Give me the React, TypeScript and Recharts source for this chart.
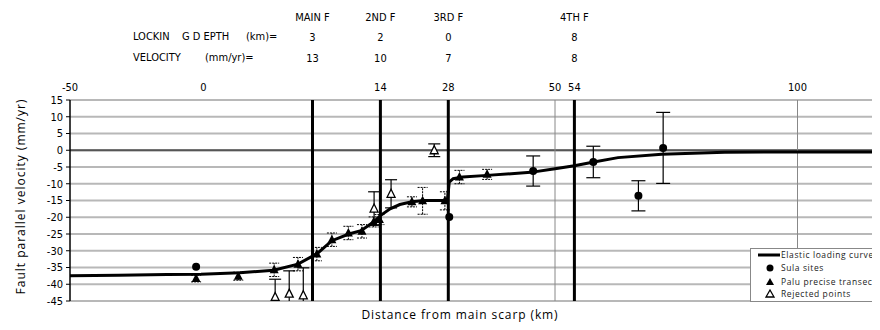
import React from "react";
import {
  ComposedChart,
  Line,
  Scatter,
  ErrorBar,
  XAxis,
  YAxis,
  CartesianGrid,
  ReferenceLine,
} from "recharts";

// Fault header table
const faultNames = ["MAIN  F", "2ND F", "3RD F", "4TH F"];
const faultPositions = [0, 14, 28, 54];
const lockingDepths = [3, 2, 0, 8];
const faultVelocities = [13, 10, 7, 8];

// thin vertical marks
const thinMarks = [50, 100];

// top tick labels (the "0" sits left of the main fault in the original)
const xTickPositions = [-50, -22.5, 14, 28, 50, 54, 100];
const xTickLabels = ["-50", "0", "14", "28", "50", "54", "100"];
const yTicks = [15, 10, 5, 0, -5, -10, -15, -20, -25, -30, -35, -40, -45];

// Elastic loading curve
const curveKm = [-50, -40, -30, -23, -15, -8, -3, 1, 4, 7.5, 10, 12.5, 14, 16, 18, 20.5, 23, 27.8, 28.2, 29, 31, 36, 45, 50, 54, 58, 63, 72, 85, 100, 130];
const curveVel = [-37.5, -37.3, -37.1, -37, -36.6, -35.8, -34, -30.8, -27, -25, -24, -21.5, -19.5, -17.5, -16.2, -15.4, -15, -15, -9.5, -8.5, -8, -7.5, -6.6, -5.5, -4.6, -3.5, -2.2, -1.2, -0.6, -0.5, -0.5];

// Palu precise transect
const paluKm = [-24, -15.3, -7.9, -3, 0.9, 4, 7.4, 10.2, 12.6, 13.8, 20.5, 22.7, 27.3, 30.3, 36];
const paluVel = [-38.3, -37.6, -35.7, -34, -31, -26.7, -24.7, -24.2, -21.4, -20.7, -15.4, -15.1, -15.1, -8, -7.2];
const paluErr = [1, 1.2, 2, 2, 2, 2, 2, 2, 1.5, 1.5, 1.5, 4, 2.7, 2, 1.5];

// Sula sites
const sulaKm = [-24, 28.2, 45.5, 57.9, 67.2, 72.3];
const sulaVel = [-34.8, -19.9, -6.2, -3.5, -13.6, 0.7];
const sulaErr = [null, null, 4.5, 4.7, 4.5, 10.6];

// Rejected points
const rejectedKm = [-7.7, -4.8, -1.9, 12.7, 16.2, 25.1];
const rejectedVel = [-43.8, -42.8, -43.3, -17.4, -13, 0];
const rejectedErr = [5.3, 6.8, 8.2, 5, 4.2, 1.9];

const curve = curveKm.map((x, i) => ({ x, y: curveVel[i] }));
const palu = paluKm.map((x, i) => ({ x, y: paluVel[i], err: paluErr[i] }));
const sula = sulaKm.map((x, i) => ({ x, y: sulaVel[i], err: sulaErr[i] }));
const rejected = rejectedKm.map((x, i) => ({ x, y: rejectedVel[i], err: rejectedErr[i] }));

const narrow = "'Liberation Sans Narrow', 'DejaVu Sans Condensed', 'Liberation Sans', sans-serif";
const sans = "'Open Sans', 'DejaVu Sans', sans-serif";

const FilledTriangle = (props: any) => {
  const { cx, cy } = props;
  if (cx == null || cy == null) return null;
  return <path d={`M${cx},${cy - 5} L${cx + 4.5},${cy + 3.5} L${cx - 4.5},${cy + 3.5} Z`} fill="#000" />;
};

const OpenTriangle = (props: any) => {
  const { cx, cy } = props;
  if (cx == null || cy == null) return null;
  return (
    <path
      d={`M${cx},${cy - 4.5} L${cx + 4},${cy + 3.5} L${cx - 4},${cy + 3.5} Z`}
      fill="#fff"
      stroke="#000"
      strokeWidth={1.3}
    />
  );
};

const Dot = (props: any) => {
  const { cx, cy } = props;
  if (cx == null || cy == null) return null;
  return <circle cx={cx} cy={cy} r={4} fill="#000" />;
};

const FaultLabel = (i: number) => (props: any) => {
  const { viewBox } = props;
  const x = viewBox.x;
  const y = viewBox.y;
  return (
    <g fontFamily={narrow} fontSize={11} fill="#000" textAnchor="middle" style={{ whiteSpace: "pre" }}>
      <text x={x} y={y - 79}>{faultNames[i]}</text>
      <text x={x} y={y - 59}>{lockingDepths[i]}</text>
      <text x={x} y={y - 38}>{faultVelocities[i]}</text>
    </g>
  );
};

const LegendBox = () => (
  <div
    style={{
      position: "absolute",
      left: 750,
      top: 248,
      width: 150,
      height: 54,
      background: "#fff",
      border: "1px solid #888",
      boxSizing: "border-box",
    }}
  >
    <svg width={150} height={54} style={{ display: "block" }} fontFamily={sans} fontSize={8.5} letterSpacing={0.6} fill="#222">
      <line x1={7} y1={6} x2={29} y2={6} stroke="#000" strokeWidth={3} />
      <text x={30} y={9}>Elastic loading curve</text>
      <circle cx={19} cy={19} r={3.5} fill="#000" />
      <text x={30} y={22}>Sula sites</text>
      <path d="M19,29 L23,36 L15,36 Z" fill="#000" />
      <text x={30} y={36}>Palu precise transect</text>
      <path d="M19,41 L23,48 L15,48 Z" fill="#fff" stroke="#000" strokeWidth={1.3} />
      <text x={30} y={48}>Rejected points</text>
    </svg>
  </div>
);

const headerText: React.CSSProperties = {
  position: "absolute",
  fontFamily: narrow,
  fontSize: 11,
  whiteSpace: "pre",
  lineHeight: "12px",
};

export default function App() {
  return (
    <div style={{ position: "relative", margin: -8, width: 880, height: 330, overflow: "hidden", background: "#fff" }}>
      <style>{".recharts-errorBars{clip-path:url(#plotClip);}"}</style>
      <svg width={0} height={0} style={{ position: "absolute" }}>
        <defs>
          <clipPath id="plotClip" clipPathUnits="userSpaceOnUse">
            <rect x={70} y={99} width={880} height={202} />
          </clipPath>
        </defs>
      </svg>
      <div style={{ ...headerText, left: 133, top: 31 }}>LOCKIN</div>
      <div style={{ ...headerText, left: 182, top: 31 }}>G D EPTH</div>
      <div style={{ ...headerText, left: 246, top: 31 }}>(km)=</div>
      <div style={{ ...headerText, left: 133, top: 52 }}>VELOCITY</div>
      <div style={{ ...headerText, left: 205, top: 52 }}>(mm/yr)=</div>
      <ComposedChart width={943} height={330} margin={{ top: 80, right: 0, bottom: 29, left: 0 }}>
        <CartesianGrid vertical={false} stroke="#b8b8b8" strokeWidth={2} />
        <XAxis
          type="number"
          dataKey="x"
          orientation="top"
          domain={[-50, 130]}
          allowDataOverflow
          ticks={xTickPositions}
          interval={0}
          tickFormatter={(v: number) => xTickLabels[xTickPositions.indexOf(v)]}
          axisLine={false}
          tickLine={false}
          height={20}
          tickMargin={3}
          tick={{ fontSize: 11, fill: "#000", fontFamily: narrow }}
        />
        <YAxis
          type="number"
          domain={[-45, 15]}
          allowDataOverflow
          ticks={yTicks}
          interval={0}
          width={70}
          tickSize={4}
          tickMargin={3}
          tick={{ fontSize: 11, fill: "#000", fontFamily: narrow }}
          axisLine={{ stroke: "#000", strokeWidth: 1.5 }}
          tickLine={{ stroke: "#000" }}
          label={{
            value: "Fault parallel velocity (mm/yr)",
            angle: -90,
            position: "insideLeft",
            offset: 21,
            dy: -4,
            style: { textAnchor: "middle", fontSize: 12, fontFamily: sans, fill: "#000", letterSpacing: 1 },
          }}
        />
        <ReferenceLine y={0} stroke="#555" strokeWidth={2} />
        {thinMarks.map((m) => (
          <ReferenceLine key={`t${m}`} x={m} stroke="#888" strokeWidth={1} />
        ))}
        {faultPositions.map((p, i) => (
          <ReferenceLine key={`f${i}`} x={p} stroke="#000" strokeWidth={3} label={FaultLabel(i)} />
        ))}
        <Line
          data={curve}
          dataKey="y"
          type="linear"
          stroke="#000"
          strokeWidth={3}
          dot={false}
          isAnimationActive={false}
        />
        <Scatter data={rejected} dataKey="y" shape={OpenTriangle} isAnimationActive={false}>
          <ErrorBar dataKey="err" direction="y" width={6} stroke="#000" strokeWidth={1.2} />
        </Scatter>
        <Scatter data={palu} dataKey="y" shape={FilledTriangle} isAnimationActive={false}>
          <ErrorBar dataKey="err" direction="y" width={5} stroke="#000" strokeWidth={1} strokeDasharray="2 1" />
        </Scatter>
        <Scatter data={sula} dataKey="y" shape={Dot} isAnimationActive={false}>
          <ErrorBar dataKey="err" direction="y" width={7} stroke="#000" strokeWidth={1.2} />
        </Scatter>
      </ComposedChart>
      <LegendBox />
      <div
        style={{
          position: "absolute",
          left: 260,
          width: 400,
          top: 308,
          lineHeight: "14px",
          textAlign: "center",
          fontFamily: sans,
          fontSize: 12,
          letterSpacing: 0.9,
        }}
      >
        Distance from main scarp (km)
      </div>
    </div>
  );
}
